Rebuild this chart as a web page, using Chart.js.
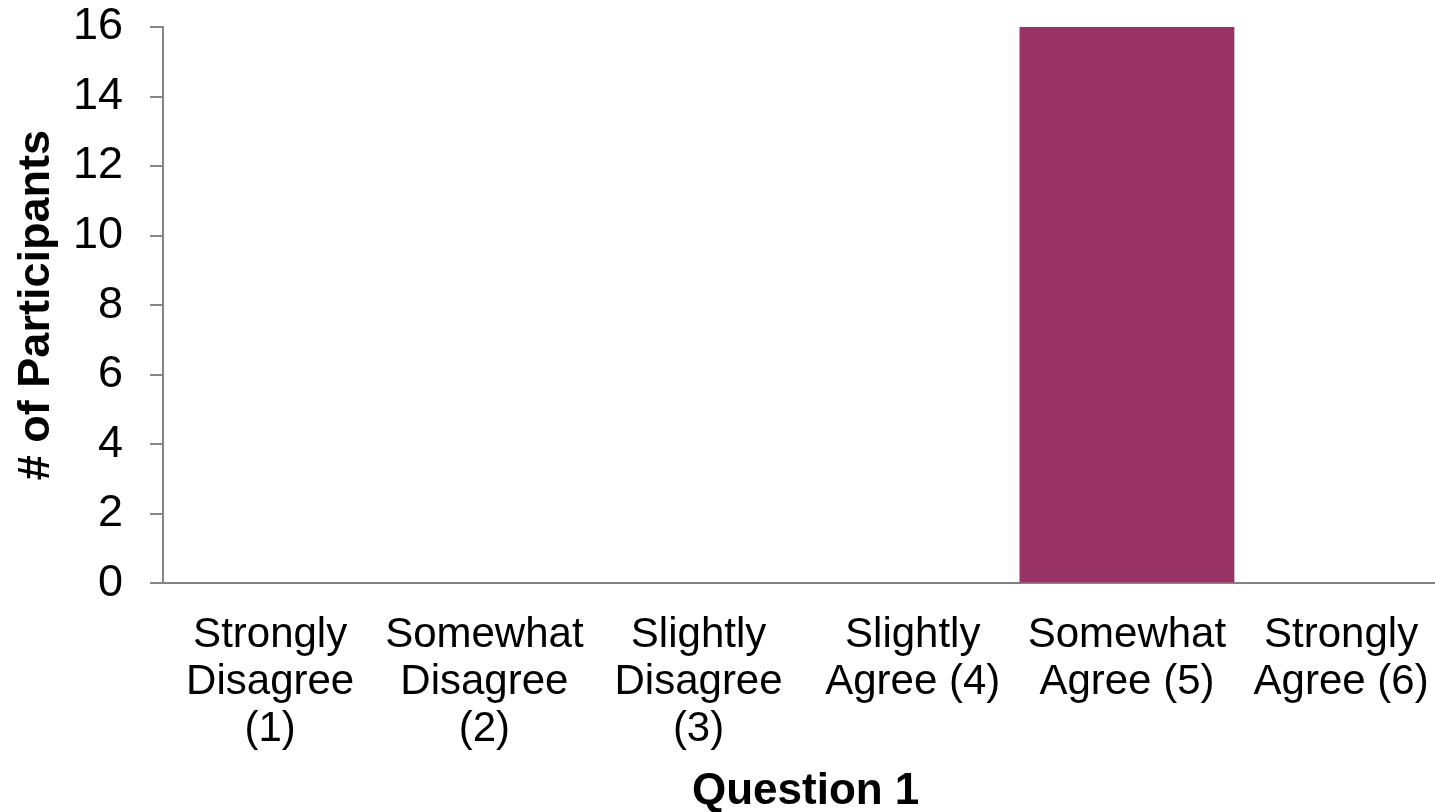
<!DOCTYPE html>
<html>
<head>
<meta charset="utf-8">
<script src="https://cdn.jsdelivr.net/npm/chart.js@4.4.1/dist/chart.umd.min.js"></script>
<style>
  html, body { margin: 0; padding: 0; background: #fff; overflow: hidden; }
  #wrap { width: 1435px; height: 812px; overflow: hidden; position: relative; }
  #box { width: 1457px; height: 843px; position: absolute; left: 0; top: -27px; }
</style>
</head>
<body>
<div id="wrap"><div id="box"><canvas id="myChart"></canvas></div></div>
<script>
const categories = [
  ['Strongly', 'Disagree', '(1)'],
  ['Somewhat', 'Disagree', '(2)'],
  ['Slightly', 'Disagree', '(3)'],
  ['Slightly', 'Agree (4)'],
  ['Somewhat', 'Agree (5)'],
  ['Strongly', 'Agree (6)']
]
const participants = [0, 0, 0, 0, 16, 0]
const yTicks = [0, 2, 4, 6, 8, 10, 12, 14, 16]

const font = 'Liberation Sans, Arial, sans-serif'
const axisGray = '#868686'

const ctx = document.getElementById('myChart')

new Chart(ctx, {
  type: 'bar',
  data: {
    labels: categories,
    datasets: [{
      label: 'Question 1',
      data: participants,
      backgroundColor: '#993366',
      borderWidth: 0,
      barPercentage: 1.0,
      categoryPercentage: 1.0
    }]
  },
  options: {
    responsive: true,
    maintainAspectRatio: false,
    animation: false,
    layout: { padding: { top: 4, right: 4, left: 10, bottom: 0 } },
    plugins: {
      legend: { display: false },
      tooltip: { enabled: false }
    },
    scales: {
      x: {
        grid: { display: false, drawTicks: false },
        border: { display: true, color: axisGray, width: 2 },
        ticks: {
          color: '#000',
          font: { family: font, size: 42, lineHeight: 1.13 },
          maxRotation: 0,
          autoSkip: false,
          padding: 28
        },
        title: {
          display: true,
          text: 'Question 1',
          color: '#000',
          font: { family: font, size: 44, weight: 'bold', lineHeight: 1.1 },
          padding: { top: -14, bottom: 0 }
        }
      },
      y: {
        min: yTicks[0],
        max: yTicks[yTicks.length - 1],
        afterBuildTicks: (axis) => { axis.ticks = yTicks.map(v => ({ value: v })) },
        grid: {
          display: true,
          drawOnChartArea: false,
          drawTicks: true,
          tickLength: 13,
          color: axisGray,
          lineWidth: 2
        },
        border: { display: true, color: axisGray, width: 2 },
        ticks: {
          color: '#000',
          font: { family: font, size: 45 },
          padding: 27
        },
        title: {
          display: true,
          text: '# of Participants',
          color: '#000',
          font: { family: font, size: 45, weight: 'bold' },
          padding: { top: 0, bottom: -18 }
        }
      }
    }
  }
})
</script>
</body>
</html>
